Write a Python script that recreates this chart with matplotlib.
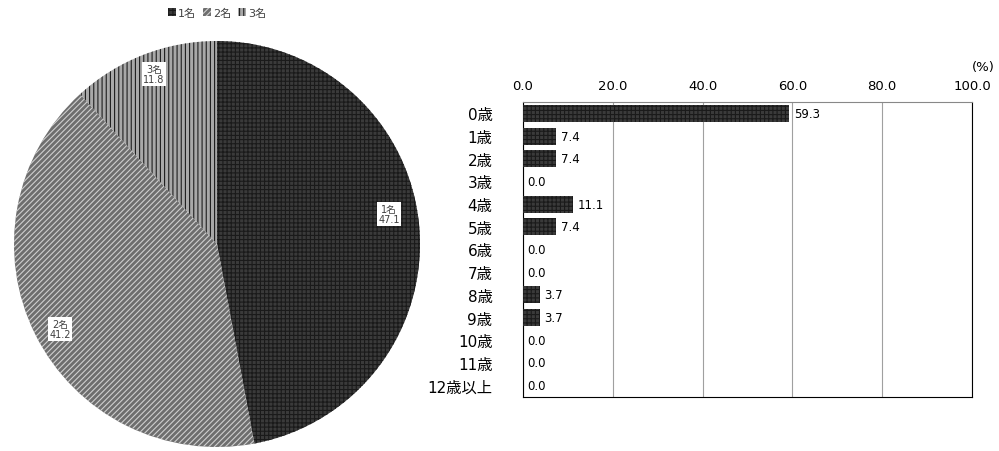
import matplotlib
matplotlib.use("Agg")
import matplotlib.pyplot as plt
import numpy as np
from matplotlib.patches import Patch

plt.rcParams['font.family'] = ['DejaVu Sans', 'Noto Sans CJK JP']

pie_labels = ['1名', '2名', '3名']
pie_values = [47.1, 41.2, 11.8]

ages = ['0歳', '1歳', '2歳', '3歳', '4歳', '5歳', '6歳', '7歳', '8歳', '9歳', '10歳', '11歳', '12歳以上']
age_values = [59.3, 7.4, 7.4, 0.0, 11.1, 7.4, 0.0, 0.0, 3.7, 3.7, 0.0, 0.0, 0.0]
xticks = [0, 20, 40, 60, 80, 100]

fig = plt.figure(figsize=(9.99, 4.52), dpi=100)

# ---- Pie ----
axp = fig.add_axes([14/999, 4/452, 406/999, 406/452])
face = ['#3a3a3a', '#6e6e6e', '#a8a8a8']
edge = ['#1a1a1a', '#cfcfcf', '#1e1e1e']
hatches = ['++++', '//////', '||||']
plt.rcParams['hatch.linewidth'] = 0.8
wedges, _ = axp.pie(pie_values, startangle=90, counterclock=False,
                    colors=face, wedgeprops=dict(linewidth=0))
for w, e, h in zip(wedges, edge, hatches):
    w.set_edgecolor(e)
    w.set_hatch(h)
    w.set_linewidth(0)
axp.set_xlim(-1, 1)
axp.set_ylim(-1, 1)
axp.set_aspect('equal')
label_pos = [(0.847, 0.148), (-0.773, -0.419), (-0.31, 0.837)]
for lab, v, (x, y) in zip(pie_labels, pie_values, label_pos):
    axp.text(x, y, f"{lab}\n{v:.1f}", ha='center', va='center', fontsize=7,
             color='#404040', linespacing=1.1,
             bbox=dict(facecolor='white', edgecolor='none', pad=1.2))

# legend
handles = [Patch(facecolor=f, edgecolor=e, hatch=h, linewidth=0) for f, e, h in zip(face, edge, hatches)]
fig.legend(handles, pie_labels, loc='center', bbox_to_anchor=(217/999, 1 - 14/452),
           ncol=3, frameon=False, fontsize=8, handlelength=0.7, handleheight=0.7,
           handletextpad=0.2, columnspacing=0.6, labelcolor='#404040')

# ---- Bars ----
axb = fig.add_axes([523/999, 54/452, 449/999, 295/452])
y = np.arange(len(ages))
axb.barh(y, age_values, height=0.75, color='#3a3a3a', edgecolor='#1a1a1a',
         hatch='++++', linewidth=0, zorder=3)
for yi, v in zip(y, age_values):
    axb.text(v + 1.0, yi, f"{v:.1f}", ha='left', va='center', fontsize=8.5, color='black', zorder=4)
axb.set_xlim(0, 100)
axb.set_ylim(len(ages) - 0.5, -0.5)
axb.set_xticks(xticks)
axb.set_xticklabels([f"{t:.1f}" for t in xticks], fontsize=9.5)
axb.xaxis.tick_top()
axb.tick_params(axis='x', length=0, pad=7)
axb.set_yticks(y)
axb.set_yticklabels(ages, fontsize=11)
axb.tick_params(axis='y', length=0, pad=22)
axb.grid(axis='x', color='#a0a0a0', linewidth=0.8, zorder=0)
for s in axb.spines.values():
    s.set_color('#888888')
    s.set_linewidth(0.8)
axb.spines['left'].set_color('black')
axb.spines['bottom'].set_color('black')
axb.spines['right'].set_color('black')
axb.text(1.0, 1.12, "(%)", transform=axb.transAxes, ha='left', va='center', fontsize=9.5)

fig.savefig('out.png', dpi=100)
